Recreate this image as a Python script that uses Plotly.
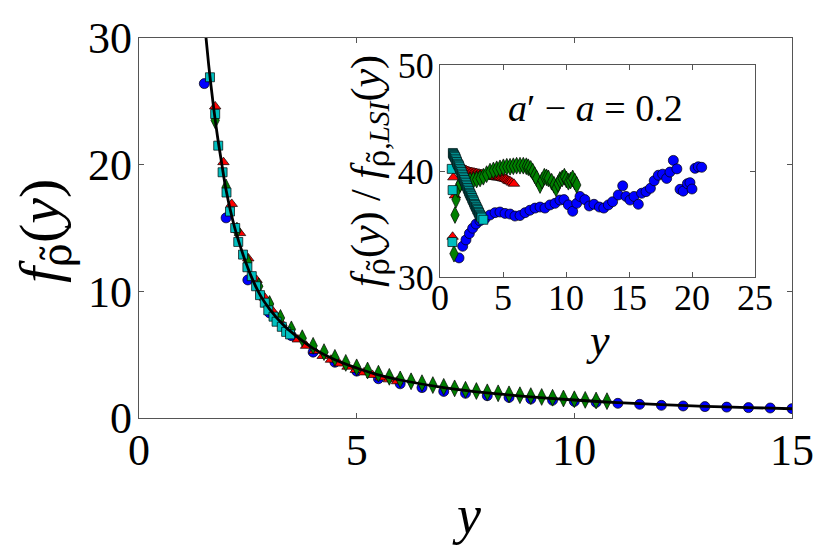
import plotly.graph_objects as go

# ---------------- main panel data ----------------
line_x = [1.5, 1.54, 1.6, 1.7, 1.8, 1.9, 2.0, 2.2, 2.4, 2.6, 2.8, 3.0, 3.3, 3.6, 4.0, 4.5,
          5.0, 5.5, 6.0, 7.0, 8.0, 9.0, 10.0, 11.0, 12.0, 13.0, 14.0, 15.0]
line_y = [31.5, 30.0, 27.9, 24.9, 22.3, 20.1, 18.0, 15.0, 12.8, 11.0, 9.6, 8.6, 7.4, 6.5, 5.5, 4.6,
          3.95, 3.4, 3.0, 2.4, 1.98, 1.67, 1.42, 1.21, 1.05, 0.92, 0.82, 0.73]

blue_x = [1.5, 2.0, 2.5, 3.0, 3.5, 4.0, 4.5, 5.0, 5.5, 6.0, 6.5, 7.0, 7.5, 8.0, 8.5, 9.0,
          9.5, 10.0, 10.5, 11.0, 11.5, 12.0, 12.5, 13.0, 13.5, 14.0, 14.5, 15.0]
blue_y = [26.4, 15.8, 10.9, 8.3, 6.5, 5.2, 4.4, 3.7, 3.1, 2.7, 2.4, 2.1, 1.95, 1.76, 1.62, 1.5,
          1.4, 1.31, 1.23, 1.16, 1.08, 1.0, 0.95, 0.9, 0.86, 0.82, 0.79, 0.74]

red_x = [1.75, 1.94, 2.13, 2.32, 2.51, 2.70, 2.89, 3.08, 3.27, 3.46, 3.65, 3.84, 4.03, 4.22,
         4.41, 4.60, 4.79, 4.98, 5.17, 5.36, 5.55, 5.74, 5.93]
red_y = [24.6, 20.2, 16.9, 14.6, 12.6, 10.9, 9.5, 8.4, 7.5, 6.8, 6.2, 5.7, 5.3, 4.9,
         4.6, 4.3, 4.05, 3.8, 3.6, 3.4, 3.2, 3.05, 2.9]

green_x = [1.75, 2.0, 2.25, 2.5, 2.75, 3.0, 3.25, 3.5, 3.75, 4.0, 4.25, 4.5, 4.75, 5.0, 5.25,
           5.5, 5.75, 6.0, 6.25, 6.5, 6.75, 7.0, 7.25, 7.5, 7.75, 8.0, 8.25, 8.5, 8.75, 9.0,
           9.25, 9.5, 9.75, 10.0, 10.25, 10.5, 10.75]
green_y = [23.5, 18.2, 14.8, 12.3, 10.4, 9.0, 7.9, 7.0, 6.3, 5.7, 5.2, 4.75, 4.35, 4.0, 3.75,
           3.5, 3.25, 3.05, 2.9, 2.75, 2.6, 2.46, 2.34, 2.23, 2.13, 2.03, 1.95, 1.87, 1.8, 1.73,
           1.66, 1.6, 1.54, 1.48, 1.43, 1.38, 1.33]

cyan_x = [1.63, 1.75, 1.82, 1.92, 2.01, 2.09, 2.21, 2.28, 2.39, 2.49, 2.59, 2.69, 2.78, 2.89,
          2.97, 3.09, 3.16, 3.28, 3.38, 3.47]
cyan_y = [26.9, 24.0, 21.5, 19.4, 17.8, 16.3, 15.0, 13.9, 12.9, 11.9, 11.2, 10.4, 9.7, 9.1,
          8.5, 8.0, 7.6, 7.2, 6.8, 6.6]

# ---------------- inset data ----------------
in_blue_x = [1.51, 1.80, 2.06, 2.33, 2.59, 2.86, 3.17, 3.57, 3.97, 4.37, 4.76, 5.16, 5.56, 5.95,
             6.35, 6.75, 7.14, 7.54, 7.94, 8.33, 8.73, 9.13, 9.52, 9.84, 10.19, 10.53, 10.85,
             11.11, 11.5, 11.85, 12.22, 12.65, 13.0, 13.36, 13.7, 14.15, 14.5, 14.76, 15.08,
             15.4, 15.74, 16.0, 16.35, 16.7, 17.0, 17.33, 17.67, 17.99, 18.25, 18.52, 18.8,
             19.05, 19.3, 19.63, 19.84, 20.0, 20.24, 20.5, 20.77]
in_blue_v = [31.8, 32.9, 33.5, 34.1, 34.6, 35.0, 35.3, 35.5, 35.85, 36.07, 36.13, 36.0, 35.94, 35.75,
             35.8, 36.07, 36.3, 36.5, 36.6, 36.5, 36.8, 36.95, 37.26, 37.3, 36.8, 36.2, 36.95,
             37.6, 37.3, 36.7, 36.86, 36.6, 36.5, 36.8, 37.1, 37.74, 38.6, 37.6, 37.26,
             37.6, 36.86, 37.9, 38.05, 38.37, 39.08, 39.6, 39.7, 39.3, 39.9, 41.0, 40.2,
             38.27, 38.1, 38.8, 38.9, 38.3, 40.25, 40.4, 40.35]

in_red_x = [1.0, 1.06, 1.19, 1.3, 1.4, 1.5, 1.6, 1.7, 1.8, 1.9, 2.0, 2.1, 2.2, 2.3, 2.4, 2.5, 2.6,
            2.7, 2.8, 2.9, 3.0, 3.1, 3.2, 3.3, 3.4, 3.5, 3.6, 3.7, 3.8, 3.9, 4.0, 4.1, 4.2, 4.3,
            4.4, 4.5, 4.6, 4.7, 4.8, 4.9, 5.0, 5.1, 5.2, 5.3, 5.4, 5.5, 5.6, 5.72, 5.87]
in_red_v = [33.8, 39.4, 37.7, 40.6, 40.5, 40.4, 40.3, 40.25, 40.2, 40.15, 40.1, 40.05, 40.0, 39.95,
            39.9, 39.9, 39.85, 39.85, 39.8, 39.8, 39.75, 39.75, 39.7, 39.7, 39.65, 39.65, 39.6, 39.6,
            39.55, 39.55, 39.5, 39.5, 39.5, 39.45, 39.45, 39.4, 39.4, 39.4, 39.4, 39.35, 39.3, 39.3,
            39.25, 39.2, 39.1, 39.05, 39.0, 38.9, 38.8]

in_green_x = [1.11, 1.19, 1.27, 1.4, 1.6, 1.85, 2.1, 2.38, 2.65, 2.91, 3.18, 3.44, 3.7, 3.97,
              4.24, 4.5, 4.76, 5.03, 5.3, 5.56, 5.82, 6.08, 6.35, 6.61, 6.85, 7.01, 7.2, 7.36,
              7.52, 7.67, 7.94, 8.1, 8.28, 8.45, 8.6, 8.86, 9.05, 9.21, 9.37, 9.52, 9.7, 9.87,
              10.03, 10.19, 10.36, 10.53, 10.7, 10.85]
in_green_v = [32.2, 35.85, 37.3, 38.3, 38.8, 39.0, 39.05, 39.1, 39.15, 39.2, 39.3, 39.46, 39.7, 39.94,
              40.05, 40.16, 40.25, 40.35, 40.4, 40.4, 40.45, 40.5, 40.5, 40.5, 40.45, 40.35, 40.2, 39.94,
              39.6, 39.3, 38.68, 39.1, 39.46, 39.4, 39.3, 38.99, 38.7, 38.36, 38.8, 39.15, 39.3, 39.46,
              39.2, 38.99, 39.1, 39.3, 39.0, 38.68]

in_cyan_x = [0.93, 1.0, 0.98, 1.02, 1.05, 1.1, 1.15, 1.2, 1.25, 1.3, 1.35, 1.4, 1.45, 1.5, 1.55,
             1.6, 1.65, 1.7, 1.75, 1.8, 1.85, 1.9, 1.95, 2.0, 2.05, 2.1, 2.15, 2.2, 2.25, 2.3,
             2.35, 2.4, 2.45, 2.5, 2.55, 2.6, 2.65, 2.7, 2.75, 2.8, 2.85, 2.9, 2.95, 3.0, 3.05,
             3.1, 3.15, 3.2, 3.25, 3.3, 3.44]
in_cyan_v = [40.2, 38.2, 33.3, 41.7, 41.6, 41.5, 41.4, 41.3, 41.15, 41.0, 40.85, 40.7, 40.6, 40.5,
             40.35, 40.2, 40.05, 39.9, 39.75, 39.6, 39.45, 39.3, 39.15, 39.0, 38.85, 38.7, 38.55,
             38.4, 38.25, 38.1, 37.95, 37.85, 37.7, 37.6, 37.45, 37.3, 37.2, 37.05, 36.9, 36.8,
             36.65, 36.55, 36.4, 36.3, 36.15, 36.05, 35.9, 35.8, 35.7, 35.6, 35.4]

main_xticks = [0, 5, 10, 15]
main_yticks = [0, 10, 20, 30]
inset_xticks = [0, 5, 10, 15, 20, 25]
inset_yticks = [30, 40, 50]

W, H, OFF = 830, 554, 8   # page body margin offsets the figure by 8 px
def px(xp):
    return (xp - OFF) / W
def py(yp):
    return 1 - (yp - OFF) / H

FONT = "Liberation Serif"
EDGE = dict(color="black", width=0.7)
BLUE, RED, GREEN, CYAN = "#0000ff", "#ff0000", "#008000", "#00bfbf"
RHO = "<span style='font-family:DejaVu Serif'>ρ̃</span>"

fig = go.Figure()

def add_set(groups, xa, ya):
    (bx, by), (rx, ry), (gx, gy), (cx, cy) = groups
    fig.add_trace(go.Scatter(x=bx, y=by, mode="markers", xaxis=xa, yaxis=ya,
                             marker=dict(symbol="circle", size=10, color=BLUE, line=EDGE)))
    fig.add_trace(go.Scatter(x=rx, y=ry, mode="markers", xaxis=xa, yaxis=ya,
                             marker=dict(symbol="triangle-up", size=10, color=RED, line=EDGE)))
    fig.add_trace(go.Scatter(x=gx, y=gy, mode="markers", xaxis=xa, yaxis=ya,
                             marker=dict(symbol="diamond-tall", size=12, color=GREEN, line=EDGE)))
    fig.add_trace(go.Scatter(x=cx, y=cy, mode="markers", xaxis=xa, yaxis=ya,
                             marker=dict(symbol="square", size=9, color=CYAN, line=EDGE)))

add_set([(blue_x, blue_y), (red_x, red_y), (green_x, green_y), (cyan_x, cyan_y)], "x", "y")
fig.add_trace(go.Scatter(x=line_x, y=line_y, mode="lines", line=dict(color="black", width=2.8, shape="spline"),
                         xaxis="x", yaxis="y"))
add_set([(in_blue_x, in_blue_v), (in_red_x, in_red_v), (in_green_x, in_green_v), (in_cyan_x, in_cyan_v)],
        "x2", "y2")

axis_common = dict(showline=True, mirror="ticks", linecolor="#555", linewidth=1.3, ticks="inside",
                   ticklen=5, tickcolor="#555", showgrid=False, zeroline=False, automargin=False)

fig.update_layout(
    width=W, height=H, margin=dict(l=0, r=0, t=0, b=0, pad=0, autoexpand=False),
    paper_bgcolor="white", plot_bgcolor="rgba(0,0,0,0)", showlegend=False,
    font=dict(family=FONT, color="black"),
    xaxis=dict(domain=[px(139), px(792)], range=[0, 15], tickvals=main_xticks,
               tickfont=dict(size=44), ticklabelstandoff=-7, anchor="y", **axis_common),
    yaxis=dict(domain=[py(418), py(38)], range=[0, 30], tickvals=main_yticks,
               tickfont=dict(size=44), ticklabelstandoff=-3, anchor="x", **axis_common),
    xaxis2=dict(domain=[px(440), px(755)], range=[0, 25], tickvals=inset_xticks,
                tickfont=dict(size=36), ticklabelstandoff=-11, anchor="y2", **axis_common),
    yaxis2=dict(domain=[py(277), py(65)], range=[30, 50], tickvals=inset_yticks,
                tickfont=dict(size=36), ticklabelstandoff=-2, anchor="x2", **axis_common),
)

def label(x, y, text, size, angle=0):
    fig.add_annotation(xref="paper", yref="paper", x=px(x), y=py(y), showarrow=False,
                       xanchor="center", yanchor="middle", textangle=angle,
                       text=text, font=dict(size=size, family=FONT))

label(44, 231, "<i>f</i><sub>" + RHO + "</sub>(<i>y</i>)", 58, -90)
label(466, 515, "<i>y</i>", 54)
label(370, 171, "<i>f</i><sub>" + RHO + "</sub>(<i>y</i>) / <i>f</i><sub>" + RHO + ",<i>LSI</i></sub>(<i>y</i>)", 42, -90)
label(598, 340, "<i>y</i>", 44)
label(595, 108, "<i>a</i>′ − <i>a</i> = 0.2", 38)

fig.write_html("out.html")
